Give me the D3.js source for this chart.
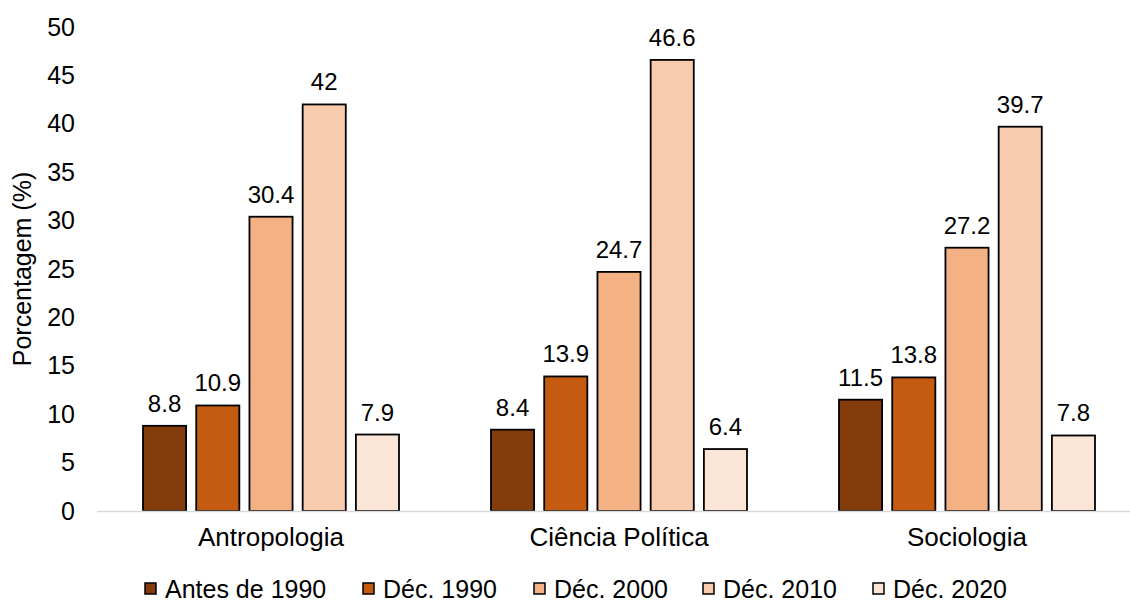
<!DOCTYPE html>
<html>
<head>
<meta charset="utf-8">
<script src="https://cdn.jsdelivr.net/npm/d3@7"></script>
<style>
  html, body { margin: 0; padding: 0; background: #fff; }
  svg { display: block; font-family: "Liberation Sans", Arial, sans-serif; }
</style>
</head>
<body>
<svg id="chart" width="1130" height="605"></svg>
<script>
// Disciplines on the x axis
const categories = ["Antropologia", "Ciência Política", "Sociologia"];
// Period series (legend order)
const seriesNames = ["Antes de 1990", "Déc. 1990", "Déc. 2000", "Déc. 2010", "Déc. 2020"];
const seriesColors = ["#843C0C", "#C55A11", "#F4B183", "#F8CBAD", "#FBE5D6"];
// Percentages per series, one value per discipline
const antes1990 = [8.8, 8.4, 11.5];
const dec1990 = [10.9, 13.9, 13.8];
const dec2000 = [30.4, 24.7, 27.2];
const dec2010 = [42, 46.6, 39.7];
const dec2020 = [7.9, 6.4, 7.8];
const seriesValues = [antes1990, dec1990, dec2000, dec2010, dec2020];
const yTicks = [0, 5, 10, 15, 20, 25, 30, 35, 40, 45, 50];

const svg = d3.select("#chart");
const W = 1130;

const x0 = d3.scaleBand().domain(categories).range([97, 1141]).padding(0);
const x1 = d3.scaleBand().domain(seriesNames)
  .range([46, x0.bandwidth() - 46]).paddingInner(0.19).paddingOuter(0);
const y = d3.scaleLinear().domain([0, 50]).range([511, 27]);

// Y tick labels
const yAxis = d3.axisLeft(y).tickValues(yTicks).tickSize(0).tickPadding(0);
const gy = svg.append("g").attr("transform", "translate(75,0)").call(yAxis);
gy.select(".domain").remove();
gy.selectAll("text")
  .attr("font-size", 25).attr("fill", "#000")
  .attr("font-family", "Liberation Sans, Arial, sans-serif");

// Y axis title
svg.append("text")
  .attr("transform", `translate(31,${(y(0) + y(50)) / 2}) rotate(-90)`)
  .attr("text-anchor", "middle")
  .attr("font-size", 25)
  .text("Porcentagem (%)");

// Bars
const data = [];
categories.forEach((c, ci) => {
  seriesNames.forEach((s, si) => {
    data.push({ cat: c, series: s, value: seriesValues[si][ci], color: seriesColors[si] });
  });
});

const g = svg.append("g");
g.selectAll("rect").data(data).join("rect")
  .attr("x", d => x0(d.cat) + x1(d.series))
  .attr("y", d => y(d.value))
  .attr("width", x1.bandwidth())
  .attr("height", d => y(0) - y(d.value))
  .attr("fill", d => d.color)
  .attr("stroke", "#000")
  .attr("stroke-width", 1.8);

// Value labels
g.selectAll("text.val").data(data).join("text")
  .attr("class", "val")
  .attr("x", d => x0(d.cat) + x1(d.series) + x1.bandwidth() / 2)
  .attr("y", d => y(d.value) - 14)
  .attr("text-anchor", "middle")
  .attr("font-size", 24)
  .text(d => d.value);

// X axis baseline
svg.append("line")
  .attr("x1", 97).attr("x2", W)
  .attr("y1", y(0) + 0.5).attr("y2", y(0) + 0.5)
  .attr("stroke", "#d9d9d9").attr("stroke-width", 1.5);

// Category labels
const xAxis = d3.axisBottom(x0).tickSize(0).tickPadding(0);
const gx = svg.append("g").attr("transform", `translate(0,${y(0) + 17})`).call(xAxis);
gx.select(".domain").remove();
gx.selectAll("text")
  .attr("font-size", 26).attr("fill", "#000")
  .attr("font-family", "Liberation Sans, Arial, sans-serif");

// Legend
const legendX = [145, 363, 534, 703, 873];
const lg = svg.append("g");
seriesNames.forEach((s, i) => {
  const item = lg.append("g").attr("transform", `translate(${legendX[i]},0)`);
  item.append("rect")
    .attr("x", 0).attr("y", 583).attr("width", 11).attr("height", 11)
    .attr("fill", seriesColors[i]).attr("stroke", "#000").attr("stroke-width", 1.5);
  item.append("text")
    .attr("x", 20).attr("y", 598)
    .attr("font-size", 25)
    .text(s);
});
</script>
</body>
</html>
